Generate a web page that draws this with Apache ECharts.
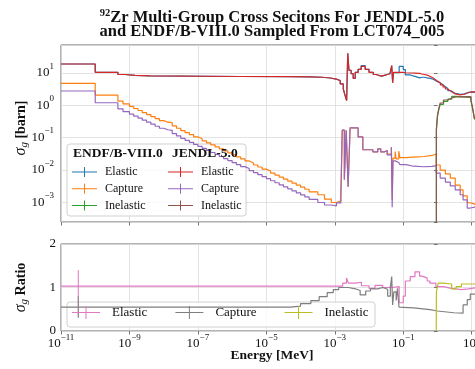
<!DOCTYPE html>
<html><head><meta charset="utf-8">
<script src="https://cdn.jsdelivr.net/npm/echarts@6/dist/echarts.min.js"></script>
<style>html,body{margin:0;padding:0;background:#fff}#c{width:475px;height:369px}</style>
</head><body><div id="c"></div>
<script>
const FONT = '"Liberation Serif","Times New Roman",serif';

// ---- tick labels ----
const xTickExponents = [-11, -9, -7, -5, -3, -1, 1];
const yTickExponents = [-3, -2, -1, 0, 1];
const ratioTicks = [0, 1, 2];

// ---- elastic (group boundaries in MeV, values in barn) ----
const elasticE = [1e-11,1e-10,4.6e-10,7.4e-10,1.45e-9,4e-9,1.7e-6,5e-5,1.9e-4,4.3e-4,7.4e-4,1.1e-3,1.44e-3,1.77e-3,2.0e-3,2.22e-3,2.39e-3,2.6e-3,3.0e-3,3.45e-3,3.95e-3,4.8e-3,5.9e-3,7.7e-3,1.0e-2,1.33e-2,1.6e-2,2.3e-2,3.2e-2,4.1e-2,4.6e-2,4.9e-2,5.2e-2,7.6e-2,0.1,0.115,0.16,0.22,0.3,0.35,0.41,0.5,0.62,0.75,0.86,1.0,1.21,1.45,1.7,2.0,2.37,2.8,3.3,4.6,6.1,7.95,10.4,13.6,20];
const elasticJendl = [19.0,10.5,9.0,8.5,8.1,7.8,7.7,7.6,7.4,7.0,6.5,5.8,4.6,3.2,2.0,1.4,41,12,9.5,6.8,10.5,13,16,13,10.5,9.0,8.0,8.8,9.5,10.0,17,5.0,10.5,10.4,10.2,10.0,9.9,9.7,9.3,9.0,8.6,7.8,7.0,6.3,5.6,5.0,4.3,3.7,3.2,2.8,2.5,2.25,2.1,2.2,2.45,2.6,2.6,2.5];
const elasticEndf  = [19.0,10.5,9.0,8.5,8.1,7.8,7.7,7.6,7.4,7.0,6.5,5.8,4.6,3.2,2.0,1.4,41,12,9.5,6.8,10.5,13,17,13,10.5,9.0,8.0,8.8,9.5,10.0,17,5.0,10.3,16,12.8,8.7,7.9,7.1,7.4,7.4,7.1,6.8,6.4,5.9,5.4,4.9,4.3,3.75,3.3,2.85,2.6,2.35,2.2,2.25,2.5,2.6,2.55,2.5];

// ---- capture ----
const captureE = [1e-11,1e-10,4.6e-10,6.5e-10,
  1e-9,1.33e-9,1.78e-9,2.37e-9,3.16e-9,4.22e-9,5.62e-9,7.5e-9,
  1e-8,1.33e-8,1.78e-8,2.37e-8,3.16e-8,4.22e-8,5.62e-8,7.5e-8,
  1e-7,1.33e-7,1.78e-7,2.37e-7,3.16e-7,4.22e-7,5.62e-7,7.5e-7,
  1e-6,1.33e-6,1.78e-6,2.37e-6,3.16e-6,4.22e-6,5.62e-6,7.5e-6,
  1e-5,1.33e-5,1.78e-5,2.37e-5,3.16e-5,4.22e-5,5.62e-5,7.5e-5,
  1e-4,1.33e-4,1.78e-4,
  3.2e-4,5e-4,7.9e-4,1.12e-3,1.5e-3,1.65e-3,1.9e-3,2.15e-3,2.45e-3,2.8e-3,4.8e-3,6.6e-3,1.3e-2,1.8e-2,2.2e-2,2.8e-2,3.4e-2,4.5e-2,4.75e-2,5.0e-2,5.8e-2,6.2e-2,7.4e-2,8.0e-2,0.12,0.2,0.4,0.7,0.92,1.2,1.7,2.37,3.3,4.6,5.6,7.4,9.1,13.6,20];
const captureEndf = [4.8,2.08,1.35,1.1,
  0.920,0.797,0.690,0.597,0.517,0.448,0.388,0.336,
  0.300,0.290,0.230,0.195,0.164,0.142,0.123,0.106,
  0.0920,0.0797,0.0690,0.0597,0.0517,0.0448,0.0388,0.0336,
  0.0291,0.0252,0.0218,0.0189,0.0164,0.0142,0.0123,0.0106,
  0.00920,0.00797,0.00690,0.00597,0.00517,0.00448,0.00388,0.00336,
  0.00291,0.00252,
  0.0021,0.0017,0.00125,0.00098,0.0011,0.0014,0.17,0.005,0.17,0.003,0.2,0.105,0.042,0.036,0.045,0.036,0.040,0.031,0.05,0.0012,0.023,0.037,0.022,0.038,0.024,0.025,0.026,0.028,0.031,0.0142,0.0099,0.0075,0.0056,0.0034,0.0024,0.00157,0.00096,0.00084,0.00077];
const captureJendl = [2.77,1.2,0.78,0.64,
  0.534,0.462,0.400,0.346,0.300,0.260,0.225,0.195,
  0.175,0.168,0.133,0.113,0.0951,0.0824,0.0713,0.0617,
  0.0534,0.0462,0.0400,0.0346,0.0300,0.0260,0.0225,0.0195,
  0.0169,0.0146,0.0126,0.0110,0.00951,0.00824,0.00713,0.00617,
  0.00534,0.00462,0.00400,0.00346,0.00300,0.00260,0.00225,0.00195,
  0.00169,0.00146,
  0.00122,0.00098,0.00082,0.00077,0.00095,0.0013,0.17,0.005,0.17,0.003,0.2,0.105,0.042,0.036,0.045,0.036,0.040,0.029,0.05,0.0007,0.019,0.018,0.017,0.016,0.0145,0.013,0.0125,0.0128,0.0135,0.008,0.0056,0.0042,0.0032,0.0024,0.0017,0.00118,0.00066,0.00071,0.00071];

// ---- inelastic ----
const inelasticE = [0.8,0.93,1.0,1.1,1.2,1.5,2.0,2.6,3.5,9.5,10.5,12,20];
const inelasticEndf  = [1e-6,0.19,0.45,0.75,1.07,1.33,1.55,1.88,1.75,1.38,0.83,0.37];
const inelasticJendl = [1e-6,0.17,0.5,0.82,1.18,1.46,1.68,1.82,1.85,1.46,0.89,0.40];

// ---- ratios JENDL/ENDF ----
const ratioElasticE = [1e-11,1e-10,1.7e-3,2.2e-3,2.5e-3,4e-3,6e-3,1e-2,1.5e-2,2.5e-2,4.2e-2,4.6e-2,5e-2,7.6e-2,0.1,0.115,0.16,0.22,0.3,0.35,0.5,0.6,0.9,1.5,2.5,5,8,20];
const ratioElastic  = [1.03,1.03,1.1,1.22,1.1,1.12,1.04,0.98,1.05,1.0,1.05,1.0,1.02,0.65,0.8,1.15,1.25,1.36,1.26,1.22,1.15,1.1,1.02,0.98,0.95,0.97,1.01];
const ratioCaptureE = [1e-11,1e-10,5e-5,1e-4,2e-4,3.5e-4,6e-4,9e-4,1.3e-3,1.7e-3,2.5e-3,4e-3,5.5e-3,8e-3,1.1e-2,1.8e-2,2.5e-2,3.5e-2,4.2e-2,4.6e-2,4.9e-2,5.3e-2,6.2e-2,6.8e-2,7.5e-2,8.3e-2,0.2,0.6,1.0,3.0,5.6,7.4,9.1,20];
const ratioCapture  = [0.55,0.55,0.57,0.63,0.70,0.79,0.88,0.95,1.0,1.0,0.97,0.93,0.83,0.92,0.97,1.0,0.96,0.8,1.0,1.25,0.6,0.9,0.7,0.98,0.55,0.53,0.49,0.46,0.42,0.41,0.6,0.72,0.85];
const ratioInelasticE = [0.92,0.93,1.05,1.5,2.6,3.5,5,20];
const ratioInelastic  = [0,0.9,1.1,1.08,0.97,1.02,1.08];
const errE = 3.2e-11;
const ratioErrElastic = [0.33, 1.4];
const ratioErrCapture = [0.3, 0.8];

const C = {blue:'#1f77b4', orange:'#ff7f0e', green:'#2ca02c', red:'#d62728', purple:'#9467bd', brown:'#8c564b', pink:'#e377c2', gray:'#7f7f7f', olive:'#bcbd22'};

function steps(E, V) {
  const d = V.map((v, i) => [E[i], v]);
  d.push([E[V.length], V[V.length - 1]]);
  return d;
}
function stepSeries(name, E, V, color, xi, yi) {
  return {name, type:'line', step:'end', data: steps(E, V), xAxisIndex:xi, yAxisIndex:yi,
    showSymbol:false, lineStyle:{color, width:1.2}, itemStyle:{color}, clip:true, animation:false,
    sampling:'none', connectNulls:false};
}
function errSeries(x, range, color, xi, yi) {
  return {type:'line', data:[[x, range[0]], [x, range[1]]], xAxisIndex:xi, yAxisIndex:yi,
    showSymbol:false, lineStyle:{color, width:1}, itemStyle:{color}, animation:false, silent:true};
}
function pow10(e) { return '{b|10}{s|' + (e < 0 ? '\u2212' + (-e) : e) + '}'; }
const powRich = {
  b:{fontFamily:FONT, fontSize:13, lineHeight:22, color:'#111'},
  s:{fontFamily:FONT, fontSize:9, lineHeight:8, verticalAlign:'top', color:'#111'}
};
function isInt(v){ return Math.abs(v - Math.round(v)) < 1e-6; }

const gridLine = {show:true, lineStyle:{color:'#dcdcdc', width:0.8}};
const tick = {show:true, inside:false, length:3.5, lineStyle:{color:'#555', width:0.8}};
const XMIN = 1e-11, XMAX = 20;
const YMIN = Math.pow(10, -3.613), YMAX = Math.pow(10, 1.867);
const TOP = {left:61, top:45, width:421, height:177};

const ICON1 = 'path://M0,4.5H25V5.5H0Z M12,0H13V10H12Z';
const ICON2 = 'path://M0,6H28V7H0Z M13.5,0H14.5V13H13.5Z';

const chart = echarts.init(document.getElementById('c'), null, {renderer:'canvas'});
chart.setOption({
  animation:false,
  backgroundColor:'#fff',
  grid:[
    Object.assign({show:true, borderColor:'#666', borderWidth:1, containLabel:false, outerBoundsMode:'none'}, TOP),
    {left:61, top:244, width:421, height:87, show:true, borderColor:'#666', borderWidth:1, containLabel:false, outerBoundsMode:'none'},
    Object.assign({show:false, containLabel:false, outerBoundsMode:'none'}, TOP)
  ],
  xAxis:[
    {type:'log', gridIndex:0, min:XMIN, max:XMAX, show:false},
    {type:'value', gridIndex:0, min:-11, max:Math.log10(XMAX), interval:2, position:'bottom',
      axisLine:{show:false}, axisTick:tick, axisLabel:{show:false}, splitLine:gridLine},
    {type:'log', gridIndex:1, min:XMIN, max:XMAX, show:false},
    {type:'value', gridIndex:1, min:-11, max:Math.log10(XMAX), interval:2, position:'bottom',
      axisLine:{show:false}, axisTick:tick, splitLine:gridLine,
      axisLabel:{margin:2, rich:powRich, formatter:v => (isInt(v) && xTickExponents.includes(Math.round(v))) ? pow10(Math.round(v)) : ''}},
    {type:'log', gridIndex:2, min:XMIN, max:XMAX, show:false}
  ],
  yAxis:[
    {type:'log', gridIndex:0, min:YMIN, max:YMAX, axisLine:{show:false}, axisTick:tick, splitLine:gridLine,
      axisLabel:{margin:7, rich:powRich, formatter:v => {const l = Math.log10(v); return (isInt(l) && yTickExponents.includes(Math.round(l))) ? pow10(Math.round(l)) : '';}}},
    {type:'value', gridIndex:1, min:0, max:2, interval:1, axisLine:{show:false}, axisTick:tick, splitLine:gridLine,
      axisLabel:{margin:5, fontFamily:FONT, fontSize:13, color:'#111', formatter:v => ratioTicks.includes(v) ? String(v) : ''}},
    {type:'log', gridIndex:2, min:YMIN, max:YMAX, show:false}
  ],
  legend:[
    {data:['ENDF/B-VIII.0 Elastic','ENDF/B-VIII.0 Capture','ENDF/B-VIII.0 Inelastic'], orient:'vertical', left:72, top:165, padding:0,
      itemWidth:25, itemHeight:10, itemGap:2.7, icon:ICON1, selectedMode:false, formatter:n => n.split(' ').pop(),
      itemStyle:{borderWidth:0}, textStyle:{fontFamily:FONT, fontSize:12, color:'#111', lineHeight:14, padding:[0,0,0,3]}},
    {data:['JENDL-5.0 Elastic','JENDL-5.0 Capture','JENDL-5.0 Inelastic'], orient:'vertical', left:168, top:165, padding:0,
      itemWidth:25, itemHeight:10, itemGap:2.7, icon:ICON1, selectedMode:false, formatter:n => n.split(' ').pop(),
      itemStyle:{borderWidth:0}, textStyle:{fontFamily:FONT, fontSize:12, color:'#111', lineHeight:14, padding:[0,0,0,3]}},
    {data:['Elastic','Capture','Inelastic'], orient:'horizontal', left:72, top:305, padding:0,
      itemWidth:28, itemHeight:13, itemGap:28, icon:ICON2, selectedMode:false,
      itemStyle:{borderWidth:0}, textStyle:{fontFamily:FONT, fontSize:13, color:'#111', lineHeight:15, padding:[0,0,0,7]}}
  ],
  graphic:[
    {type:'text', x:272, y:17.7, z:10, style:{text:'{s|92}{t|Zr Multi-Group Cross Secitons For JENDL-5.0}', align:'center', verticalAlign:'middle',
      rich:{s:{fontFamily:FONT, fontWeight:'bold', fontSize:10.5, lineHeight:8, verticalAlign:'top', fill:'#111'},
            t:{fontFamily:FONT, fontWeight:'bold', fontSize:16.5, lineHeight:20, fill:'#111'}}}},
    {type:'text', x:272, y:31.5, z:10, style:{text:'and ENDF/B-VIII.0 Sampled From LCT074_005', align:'center', verticalAlign:'middle',
      fontFamily:FONT, fontWeight:'bold', fontSize:16.5, fill:'#111'}},
    {type:'rect', z:3, shape:{x:67, y:144, width:179, height:72, r:3}, style:{fill:'rgba(255,255,255,0.8)', stroke:'#d0d0d0', lineWidth:1}},
    {type:'rect', z:3, shape:{x:67, y:302, width:308, height:25, r:3}, style:{fill:'rgba(255,255,255,0.8)', stroke:'#d0d0d0', lineWidth:1}},
    {type:'text', x:73, y:154, z:10, style:{text:'ENDF/B-VIII.0', align:'left', verticalAlign:'middle', fontFamily:FONT, fontWeight:'bold', fontSize:13.5, fill:'#111'}},
    {type:'text', x:172, y:154, z:10, style:{text:'JENDL-5.0', align:'left', verticalAlign:'middle', fontFamily:FONT, fontWeight:'bold', fontSize:13.5, fill:'#111'}},
    {type:'text', x:21, y:128, rotation:Math.PI/2, z:10, style:{text:'{i|σ}{g|g}{b| [barn]}', align:'center', verticalAlign:'middle',
      rich:{i:{fontFamily:FONT, fontStyle:'italic', fontSize:16, lineHeight:18, fill:'#111'},
            g:{fontFamily:FONT, fontStyle:'italic', fontSize:11, lineHeight:10, verticalAlign:'bottom', fill:'#111'},
            b:{fontFamily:FONT, fontWeight:'bold', fontSize:14, lineHeight:18, fill:'#111'}}}},
    {type:'text', x:21, y:287.5, rotation:Math.PI/2, z:10, style:{text:'{i|σ}{g|g}{b| Ratio}', align:'center', verticalAlign:'middle',
      rich:{i:{fontFamily:FONT, fontStyle:'italic', fontSize:16, lineHeight:18, fill:'#111'},
            g:{fontFamily:FONT, fontStyle:'italic', fontSize:11, lineHeight:10, verticalAlign:'bottom', fill:'#111'},
            b:{fontFamily:FONT, fontWeight:'bold', fontSize:14, lineHeight:18, fill:'#111'}}}},
    {type:'text', x:272, y:356, z:10, style:{text:'Energy [MeV]', align:'center', verticalAlign:'middle', fontFamily:FONT, fontWeight:'bold', fontSize:13.5, fill:'#111'}}
  ],
  series:[
    stepSeries('ENDF/B-VIII.0 Elastic', elasticE, elasticEndf, C.blue, 0, 0),
    stepSeries('ENDF/B-VIII.0 Capture', captureE, captureEndf, C.orange, 4, 2),
    stepSeries('ENDF/B-VIII.0 Inelastic', inelasticE, inelasticEndf, C.green, 0, 0),
    stepSeries('JENDL-5.0 Elastic', elasticE, elasticJendl, C.red, 0, 0),
    stepSeries('JENDL-5.0 Capture', captureE, captureJendl, C.purple, 4, 2),
    stepSeries('JENDL-5.0 Inelastic', inelasticE, inelasticJendl, C.brown, 0, 0),
    stepSeries('Elastic', ratioElasticE, ratioElastic, C.pink, 2, 1),
    stepSeries('Capture', ratioCaptureE, ratioCapture, C.gray, 2, 1),
    stepSeries('Inelastic', ratioInelasticE, ratioInelastic, C.olive, 2, 1),
    errSeries(errE, ratioErrElastic, C.pink, 2, 1),
    errSeries(errE, ratioErrCapture, C.gray, 2, 1)
  ]
});
</script>
</body></html>
